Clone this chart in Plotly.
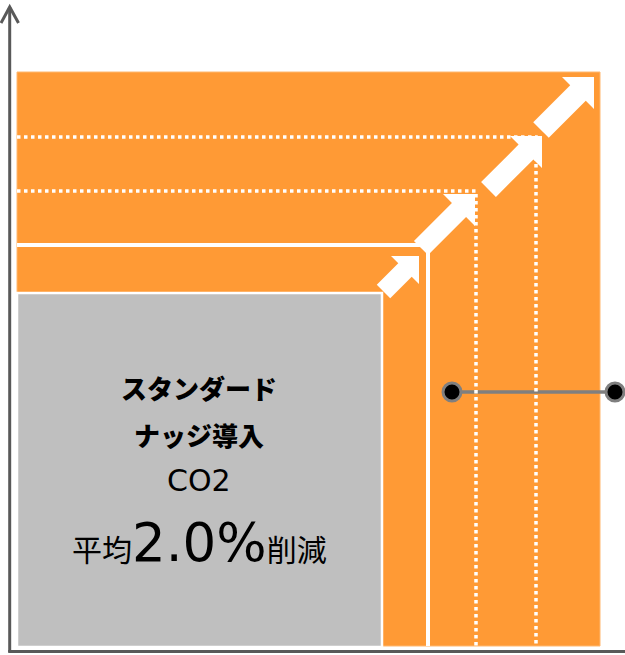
import math
import plotly.graph_objects as go

W, H = 625, 655

# Nested levels (right edge / top edge, pixel-like coordinates, y downward)
level_right = [382, 428, 476, 536, 600]
level_top = [293, 245, 191, 137, 72]
level_left = 17
level_bottom = 646
level_style = ["gray", "solid", "dot", "dot", "outer"]

# Step arrows: tail centre -> tip, head leg size, shaft width
arrow_tail_x = [384, 420, 488, 541]
arrow_tail_y = [292, 247, 189, 130]
arrow_tip_x = [419, 475, 542, 594]
arrow_tip_y = [256, 194, 136, 77]
arrow_head = [28, 32, 32, 32]
arrow_width = [19, 20, 21, 22]

# Connector with two dots
link_x = [452, 615]
link_y = [392, 392]

# Text lines
JP = "Noto Sans CJK JP"
LAT = "DejaVu Sans"
text_lines = ["スタンダード", "ナッジ導入",
              f'<span style="font-family:{LAT}">CO2</span>',
              f'平均<span style="font-family:{LAT};font-size:53px">2.0%</span>削減']
text_y = [387, 434, 480, 542]
text_size = [26, 26, 30, 30]
text_weight = [900, 900, 400, 400]
text_x = 199

ORANGE = "#FF9A35"
GRAY = "#BFBFBF"
AXIS = "#595959"

fig = go.Figure()
shapes = []

# outer orange
shapes.append(dict(type="rect", x0=level_left, x1=level_right[4], y0=level_top[4], y1=level_bottom,
                   fillcolor=ORANGE, line=dict(color="#FFB870", width=1), layer="below"))
# level lines
for i in (1, 2, 3):
    dash = "solid" if level_style[i] == "solid" else "dot"
    lw = 4 if dash == "solid" else 3.5
    shapes.append(dict(type="path",
                       path=f"M{level_left},{level_top[i]} L{level_right[i]},{level_top[i]} L{level_right[i]},{level_bottom}",
                       line=dict(color="white", width=lw, dash=dash)))
# gray rect
shapes.append(dict(type="rect", x0=level_left, x1=level_right[0], y0=level_top[0], y1=level_bottom + 1,
                   fillcolor=GRAY, line=dict(color="white", width=2.5)))

# arrows
s2 = math.sqrt(2)
for i in range(len(arrow_tip_x)):
    tx, ty = arrow_tip_x[i], arrow_tip_y[i]
    L = arrow_head[i]
    h = arrow_width[i] / 2
    mx, my = tx - L / 2, ty + L / 2
    dx, dy = 1 / s2, -1 / s2
    nx, ny = 1 / s2, 1 / s2
    s = (mx - arrow_tail_x[i]) * dx + (my - arrow_tail_y[i]) * dy
    cx, cy = mx - s * dx, my - s * dy
    pts = [(tx, ty), (tx - L, ty), (mx - h * nx, my - h * ny), (cx - h * nx, cy - h * ny),
           (cx + h * nx, cy + h * ny), (mx + h * nx, my + h * ny), (tx, ty + L)]
    path = "M" + " L".join(f"{px:.2f},{py:.2f}" for px, py in pts) + " Z"
    shapes.append(dict(type="path", path=path, fillcolor="white", line=dict(width=0)))

# axes
shapes.append(dict(type="line", x0=9.7, x1=9.7, y0=652, y1=7, line=dict(color=AXIS, width=3)))
shapes.append(dict(type="path", path="M1,23 L9.7,7 L18.5,23", line=dict(color=AXIS, width=3)))
shapes.append(dict(type="line", x0=8.2, x1=640, y0=651.5, y1=651.5, line=dict(color=AXIS, width=3)))

fig.add_trace(go.Scatter(x=link_x, y=link_y, mode="lines+markers",
                         line=dict(color="#7F7F7F", width=3.5),
                         marker=dict(color="black", size=18, line=dict(color="#7F7F7F", width=3)),
                         hoverinfo="skip", showlegend=False, cliponaxis=False))

for t, y, sz, wt in zip(text_lines, text_y, text_size, text_weight):
    fig.add_annotation(x=text_x, y=y, text=t, showarrow=False, xanchor="center", yanchor="middle",
                       font=dict(family=JP, size=sz, color="black", weight=wt))

fig.update_layout(
    width=W, height=H, margin=dict(l=0, r=0, t=0, b=0),
    paper_bgcolor="white", plot_bgcolor="white", shapes=shapes, showlegend=False,
    xaxis=dict(range=[0, W], visible=False, fixedrange=True),
    yaxis=dict(range=[H, 0], visible=False, fixedrange=True),
)
fig.write_html("out.html", config={"displayModeBar": False},
               post_script="document.body.style.margin='0';")
